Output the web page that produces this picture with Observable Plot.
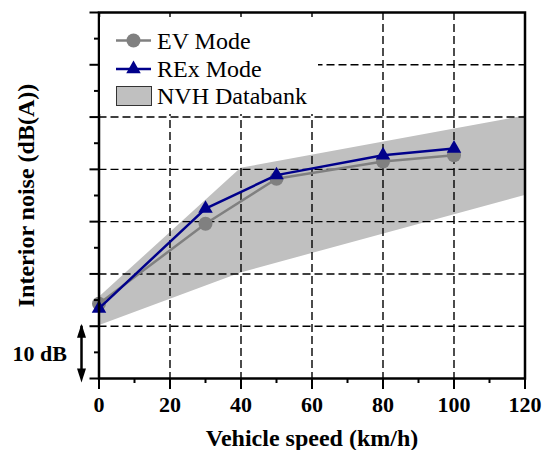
<!DOCTYPE html>
<html><head><meta charset="utf-8">
<script src="https://cdn.jsdelivr.net/npm/d3@7"></script>
<script src="https://cdn.jsdelivr.net/npm/@observablehq/plot@0.6"></script>
<style>
body{margin:0;background:#fff;}
#wrap{position:relative;width:543px;height:450px;font-family:'Liberation Serif','Times New Roman',serif;}
#legend{position:absolute;left:100px;top:17px;width:218px;height:97px;background:#fff;}
#legend text{font-family:'Liberation Serif','Times New Roman',serif;}
</style></head><body>
<div id="wrap"><div id="chart"></div><div id="legend"></div></div>
<script>
// ---- data ----
const speeds = [0, 30, 50, 80, 100];
const evMode = [14.3, 29.6, 38.2, 41.5, 42.7];
const rexMode = [13.4, 32.5, 38.9, 42.7, 44.0];
const bandSpeeds = [0, 40, 120];
const bandLow = [10.1, 20.2, 35.0];
const bandHigh = [15.5, 40.2, 50.2];
const xTicks = [0, 20, 40, 60, 80, 100, 120];
const xMinor = [10, 30, 50, 70, 90, 110];
const yTicks = [0, 10, 20, 30, 40, 50, 60, 70];
const yMinor = [5, 15, 25, 35, 45, 55, 65];
const gridXValues = [20, 40, 60, 80, 100];
const gridYValues = [10, 20, 30, 40, 50, 60];
const scaleBarDb = 10;
const seriesNames = ["EV Mode", "REx Mode", "NVH Databank"];
const xLabel = "Vehicle speed (km/h)";
const yLabel = "Interior noise (dB(A))";

const evColor = "#808080", rexColor = "#00008B", bandColor = "#C0C0C0";
const font = "'Liberation Serif', 'Times New Roman', serif";

const ev = speeds.map((s, i) => ({speed: s, noise: evMode[i]}));
const rex = speeds.map((s, i) => ({speed: s, noise: rexMode[i]}));
const band = bandSpeeds.map((s, i) => ({speed: s, lo: bandLow[i], hi: bandHigh[i]}));

const arrowHead = {draw(ctx) { ctx.moveTo(0, 0); ctx.lineTo(-4.5, 14); ctx.lineTo(4.5, 14); ctx.closePath(); }};

const chart = Plot.plot({
  width: 543, height: 450,
  marginLeft: 98.5, marginRight: 18.5, marginTop: 12, marginBottom: 72,
  style: {fontFamily: font, background: "white"},
  x: {domain: [0, 120]},
  y: {domain: [0, 70]},
  marks: [
    Plot.areaY(band, {x: "speed", y1: "lo", y2: "hi", fill: bandColor, fillOpacity: 1}),
    Plot.gridX(gridXValues, {stroke: "black", strokeOpacity: 1, strokeWidth: 1.4, strokeDasharray: "8,4"}),
    Plot.gridY(gridYValues, {stroke: "black", strokeOpacity: 1, strokeWidth: 1.4, strokeDasharray: "8,4"}),
    Plot.line(ev, {x: "speed", y: "noise", stroke: evColor, strokeWidth: 2.5}),
    Plot.dot(ev, {x: "speed", y: "noise", r: 7, fill: evColor, stroke: "none"}),
    Plot.line(rex, {x: "speed", y: "noise", stroke: rexColor, strokeWidth: 2.5}),
    Plot.dot(rex, {x: "speed", y: "noise", r: 5.4, symbol: "triangle", fill: rexColor, stroke: "none"}),
    Plot.axisX({ticks: xTicks, tickSize: 11, strokeWidth: 2, tickFormat: () => "", label: null}),
    Plot.axisX({ticks: xMinor, tickSize: 5, strokeWidth: 2, tickFormat: () => "", label: null}),
    Plot.axisX({ticks: xTicks, tickSize: 0, tickPadding: 18, fontSize: 22, fontWeight: "bold", fontFamily: font, fill: "black", label: null}),
    Plot.axisY({ticks: yTicks, tickSize: 9, strokeWidth: 2, tickFormat: () => "", label: null}),
    Plot.axisY({ticks: yMinor, tickSize: 4.5, strokeWidth: 2, tickFormat: () => "", label: null}),
    Plot.frame({stroke: "black", strokeWidth: 2.5}),
    Plot.text([xLabel], {frameAnchor: "bottom", lineAnchor: "middle", textAnchor: "middle", dy: 60, fontSize: 24, fontWeight: "bold", fontFamily: font, fill: "black"}),
    Plot.text([yLabel], {frameAnchor: "left", lineAnchor: "middle", textAnchor: "middle", dx: -73, rotate: -90, fontSize: 24, fontWeight: "bold", fontFamily: font, fill: "black"}),
    // 10 dB scale bar
    Plot.ruleX([scaleBarDb], {x: () => 0, y1: () => 0, y2: d => d, dx: -17.5, strokeWidth: 2.5, stroke: "black"}),
    Plot.dot([scaleBarDb], {x: () => 0, y: d => d, symbol: arrowHead, fill: "black", stroke: "none", dx: -17.5, dy: -2.5}),
    Plot.dot([0], {x: () => 0, y: d => d, symbol: arrowHead, rotate: 180, fill: "black", stroke: "none", dx: -17.5, dy: 4}),
    Plot.text([scaleBarDb], {x: () => 0, y: d => d / 2, text: d => `${d} dB`, dx: -32, dy: 2, textAnchor: "end", fontSize: 22, fontWeight: "bold", fontFamily: font, fill: "black"})
  ]
});
document.getElementById("chart").appendChild(chart);

// ---- legend ----
const lg = d3.select("#legend").append("svg").attr("width", 218).attr("height", 97);
const rows = [23.5, 52, 79];
// EV
lg.append("line").attr("x1", 16).attr("x2", 51).attr("y1", rows[0]).attr("y2", rows[0]).attr("stroke", evColor).attr("stroke-width", 2.5);
lg.append("circle").attr("cx", 33.5).attr("cy", rows[0]).attr("r", 7).attr("fill", evColor);
// REx
lg.append("line").attr("x1", 16).attr("x2", 51).attr("y1", rows[1]).attr("y2", rows[1]).attr("stroke", rexColor).attr("stroke-width", 2.5);
lg.append("path").attr("transform", `translate(33.5,${rows[1]})`).attr("d", d3.symbol(d3.symbolTriangle, 5.4 * 5.4 * Math.PI)()).attr("fill", rexColor);
// band
lg.append("rect").attr("x", 16.5).attr("y", rows[2] - 9.5).attr("width", 35).attr("height", 19).attr("fill", bandColor).attr("stroke", "#333").attr("stroke-width", 1);
seriesNames.forEach((name, i) => {
  lg.append("text").attr("x", 57).attr("y", rows[i] + 8).attr("font-size", 24)
    .attr("font-family", font).attr("fill", "black").text(name);
});
</script>
</body></html>
